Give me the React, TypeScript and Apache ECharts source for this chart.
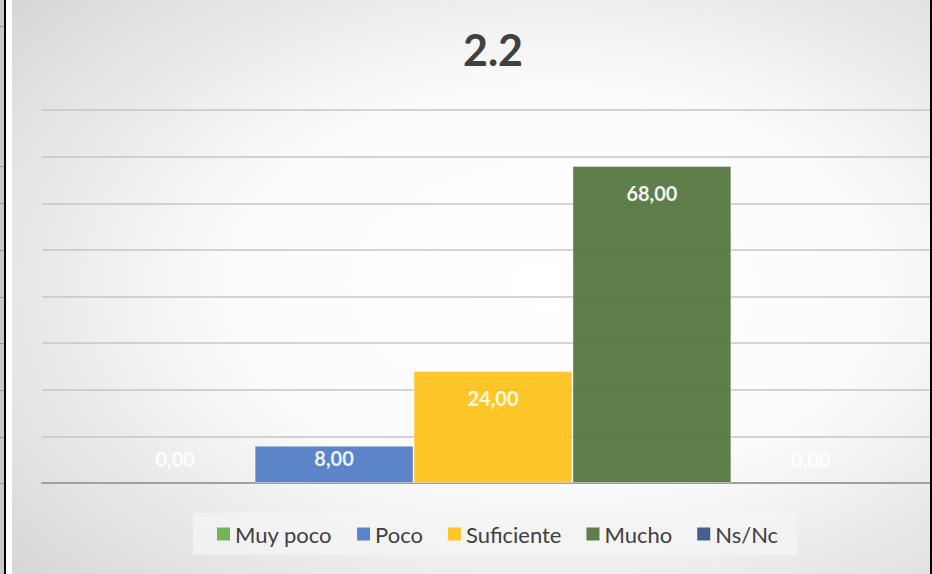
import React, { useEffect, useRef } from "react";
import * as echarts from "echarts";

const title = "2.2";
const categories = ["2.2"];
const seriesNames = ["Muy poco", "Poco", "Suficiente", "Mucho", "Ns/Nc"];
const seriesValues = [0, 8, 24, 68, 0];
const seriesColors = ["#6eae4a", "#4f7bc5", "#ffc219", "#53753c", "#365486"];
const yMin = 0;
const yMax = 80;
const yInterval = 10;

const fmt = (v: number) => v.toFixed(2).replace(".", ",");

export default function App() {
  const ref = useRef<HTMLDivElement>(null);
  useEffect(() => {
    document.body.style.margin = "0";
    const chart = echarts.init(ref.current!, null, { renderer: "svg" });
    const series = seriesNames.map((name, i) => {
      const v = seriesValues[i];
      let label: any;
      if (v === 0) {
        label = { position: "top", distance: 14 };
      } else if (v < 12) {
        label = { position: "insideTop", distance: 2 };
      } else {
        label = { position: "insideTop", distance: 17 };
      }
      return {
        name,
        type: "bar",
        data: [v],
        barGap: "0%",
        barCategoryGap: "11.9%",
        itemStyle: {
          color: seriesColors[i],
          opacity: 0.93,
          borderColor: "rgba(255,255,255,0.45)",
          borderWidth: v === 0 ? 0 : 1,
        },
        label: {
          show: true,
          ...label,
          formatter: (p: any) => fmt(p.value),
          color: "#ffffff",
          fontFamily: "Lato",
          fontWeight: "bold",
          fontSize: 20,
        },
      };
    });
    chart.setOption({
      animation: false,
      backgroundColor: {
        type: "radial",
        x: 0.58,
        y: 0.5,
        r: 1.0,
        colorStops: [
          { offset: 0, color: "#ffffff" },
          { offset: 0.35, color: "#fbfbfb" },
          { offset: 1, color: "#c2c2c2" },
        ],
      },
      title: {
        text: title,
        left: 476,
        textAlign: "center",
        top: 23,
        textStyle: {
          fontFamily: "Lato",
          fontWeight: "bold",
          fontSize: 43,
          color: "#404040",
        },
      },
      legend: {
        data: seriesNames,
        left: 181,
        top: 513,
        itemWidth: 13,
        itemHeight: 13,
        itemGap: 25,
        icon: "rect",
        backgroundColor: "rgba(244,244,244,0.75)",
        padding: [10, 19, 10, 24],
        textStyle: {
          fontFamily: "Lato",
          fontSize: 22,
          color: "#404040",
        },
        itemStyle: { borderWidth: 0 },
      },
      grid: {
        left: 30,
        width: 902,
        top: 110,
        height: 373,
      },
      xAxis: {
        type: "category",
        data: categories,
        axisLine: { show: true, lineStyle: { color: "#a0a0a0", width: 2 } },
        axisTick: { show: false },
        axisLabel: { show: false },
      },
      yAxis: {
        type: "value",
        min: yMin,
        max: yMax,
        interval: yInterval,
        axisLine: { show: false },
        axisTick: { show: false },
        axisLabel: { show: false },
        splitLine: { lineStyle: { color: "#c6c6c6", width: 1.5 } },
      },
      series,
    });
    return () => chart.dispose();
  }, []);

  const stripLines = [26, 166, 203, 250, 297, 343, 390, 437, 483];
  return (
    <div style={{ position: "relative", width: 932, height: 574, background: "#ffffff", overflow: "hidden" }}>
      <div style={{ position: "absolute", left: 0, top: 0, width: 4, height: 574, background: "#c8c8c8" }} />
      {stripLines.map((y) => (
        <div key={y} style={{ position: "absolute", left: 0, top: y, width: 4, height: 1, background: "#9a9a9a" }} />
      ))}
      <div style={{ position: "absolute", left: 4, top: 0, width: 2, height: 574, background: "#000000" }} />
      <div ref={ref} style={{ position: "absolute", left: 12, top: 0, width: 932, height: 574 }} />
      <div style={{ position: "absolute", left: 930, top: 0, width: 2, height: 574, background: "#000000" }} />
    </div>
  );
}
